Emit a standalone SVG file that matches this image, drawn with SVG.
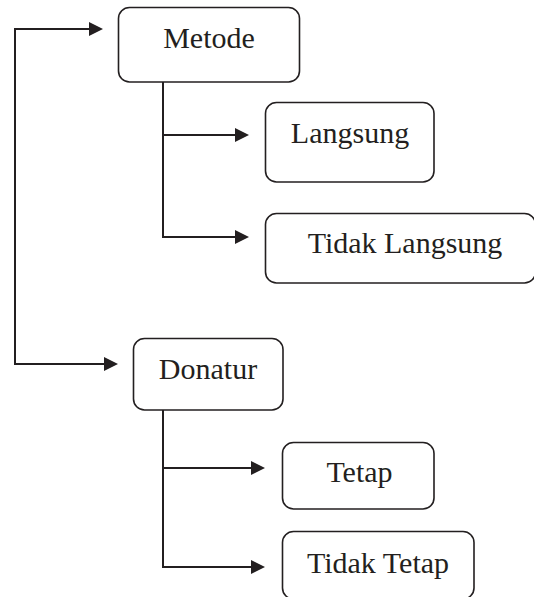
<svg xmlns="http://www.w3.org/2000/svg" width="534" height="597" viewBox="0 0 534 597">
<style>
.box{fill:#fff;stroke:#231f20;stroke-width:1.6}
.lbl{font-family:"Liberation Serif","Times New Roman",serif;font-size:30px;fill:#231f20;text-anchor:middle}
.ln{fill:none;stroke:#231f20;stroke-width:2}
.ah{fill:#231f20;stroke:none}
</style>
<rect width="534" height="597" fill="#fff"/>
<g id="connectors">
<polyline class="ln" points="91,29 15,29 15,364 105,364"/>
<polygon class="ah" points="89,22 103,29 89,36"/>
<polygon class="ah" points="104,357 118,364 104,371"/>
<polyline class="ln" points="163,82 163,237 237,237"/>
<line class="ln" x1="163" y1="135" x2="237" y2="135"/>
<polygon class="ah" points="235,128 249,135 235,142"/>
<polygon class="ah" points="235,230 249,237 235,244"/>
<polyline class="ln" points="163,410 163,567 253,567"/>
<line class="ln" x1="163" y1="468" x2="253" y2="468"/>
<polygon class="ah" points="251,461 265,468 251,475"/>
<polygon class="ah" points="251,560 265,567 251,574"/>
</g>
<g id="metode">
<rect class="box" x="118.5" y="7.5" width="181" height="74.5" rx="11"/>
<text class="lbl" x="209" y="48">Metode</text>
</g>
<g id="langsung">
<rect class="box" x="265.5" y="102.5" width="168.5" height="79.5" rx="11"/>
<text class="lbl" x="350" y="143">Langsung</text>
</g>
<g id="tidak-langsung">
<rect class="box" x="265.5" y="213.5" width="270" height="69.5" rx="11"/>
<text class="lbl" x="405" y="253">Tidak Langsung</text>
</g>
<g id="donatur">
<rect class="box" x="133.5" y="338.5" width="149.5" height="71.5" rx="11"/>
<text class="lbl" x="208" y="379">Donatur</text>
</g>
<g id="tetap">
<rect class="box" x="282.5" y="442.5" width="151.5" height="66.5" rx="11"/>
<text class="lbl" x="359.5" y="482">Tetap</text>
</g>
<g id="tidak-tetap">
<rect class="box" x="282.5" y="531.5" width="191.5" height="67.5" rx="11"/>
<text class="lbl" x="378" y="573">Tidak Tetap</text>
</g>
</svg>
